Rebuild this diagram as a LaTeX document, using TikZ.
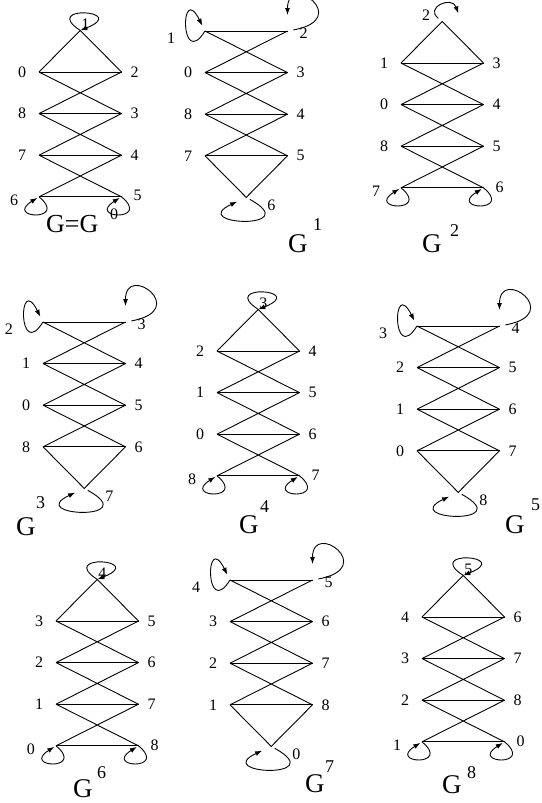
\documentclass[tikz,border=0pt]{standalone}
\usepackage{fontspec}
\setmainfont{Liberation Serif}
\usetikzlibrary{arrows.meta}
\tikzset{
  edge/.style={line width=0.9pt},
  selfloop/.style={line width=0.9pt,-{Latex[length=7pt,width=5pt]}},
  lbl/.style={inner sep=0pt,font=\fontsize{16}{16}\selectfont},
  ttl/.style={inner sep=0pt,anchor=base west,font=\fontsize{27}{27}\selectfont},
  sup/.style={inner sep=0pt,anchor=base west,font=\fontsize{18}{18}\selectfont},
}
\begin{document}
\begin{tikzpicture}[x=1pt,y=-1pt]
\useasboundingbox (0,0) rectangle (541,803);

% G^0, G^2, G^4, G^6, G^8: apex on top
\foreach \n/\px/\py/\A/\La/\Lb/\Lc/\Ld/\Ra/\Rb/\Rc/\Rd in {0/39/72/1/0/8/7/6/2/3/4/5, 2/401/63/2/1/0/8/7/3/4/5/6, 4/217/351/3/2/1/0/8/4/5/6/7, 6/56/621/4/3/2/1/0/5/6/7/8, 8/422/617/5/4/3/2/1/6/7/8/0}{
  \begin{scope}[shift={(\px,\py)}]
    \coordinate (p\n-a) at (41.25,-41.6);
    \foreach \i in {0,...,3}{
      \coordinate (p\n-l\i) at (0,41.6*\i);
      \coordinate (p\n-r\i) at (82.5,41.6*\i);
    }
    \node[lbl] (p\n-tl0) at (-17,0) {\La};
    \node[lbl] (p\n-tl1) at (-17,41.6) {\Lb};
    \node[lbl] (p\n-tl2) at (-17,83.2) {\Lc};
    \node[lbl] (p\n-tl3) at (-25,127.8) {\Ld};
    \node[lbl] (p\n-tr0) at (95.5,0) {\Ra};
    \node[lbl] (p\n-tr1) at (95.5,41.6) {\Rb};
    \node[lbl] (p\n-tr2) at (95.5,83.2) {\Rc};
    \node[lbl] (p\n-tr3) at (98.5,123.8) {\Rd};
    \ifnum\n=2
      \node[lbl] (p\n-ta) at (25,-47.6) {\A};
      \coordinate (p\n-e) at (57.25,-49.6);
    \else
      \node[lbl] (p\n-ta) at (46.25,-47.6) {\A};
    \fi
  \end{scope}
  \draw[edge] (p\n-l0) -- (p\n-a) -- (p\n-r0);
  \foreach \i in {0,...,3} \draw[edge] (p\n-l\i) -- (p\n-r\i);
  \foreach \i/\j in {0/1,1/2,2/3} \draw[edge] (p\n-l\i) -- (p\n-r\j) (p\n-r\i) -- (p\n-l\j);
  \draw[selfloop,shorten >=2pt] (p\n-l3) .. controls +(30,25) and +(-35,22) .. (p\n-l3);
  \draw[selfloop,shorten >=2pt] (p\n-r3) .. controls +(30,25) and +(-35,22) .. (p\n-r3);
  \ifnum\n=2
    \draw[selfloop,shorten <=5pt] (p\n-a) .. controls +(-18,-14) and +(-6,-18) .. (p\n-e);
  \else
    \draw[selfloop] (p\n-a) .. controls +(-40,-26) and +(50,-20) .. (p\n-a);
  \fi
}

% G^1, G^3, G^5, G^7: apex at the bottom
\foreach \n/\px/\py/\La/\Lb/\Lc/\Ld/\Ra/\Rb/\Rc/\Rd/\B in {1/205/31/1/0/8/7/2/3/4/5/6, 3/43/322/2/1/0/8/3/4/5/6/7, 5/417/326/3/2/1/0/4/5/6/7/8, 7/230/580/4/3/2/1/5/6/7/8/0}{
  \begin{scope}[shift={(\px,\py)}]
    \coordinate (p\n-b) at (41.25,166.4);
    \foreach \i in {0,...,3}{
      \coordinate (p\n-l\i) at (0,41.6*\i);
      \coordinate (p\n-r\i) at (82.5,41.6*\i);
    }
    \node[lbl] (p\n-tl0) at (-34,7) {\La};
    \node[lbl] (p\n-tl1) at (-17,41.6) {\Lb};
    \node[lbl] (p\n-tl2) at (-17,83.2) {\Lc};
    \node[lbl] (p\n-tl3) at (-17,124.8) {\Ld};
    \node[lbl] (p\n-tr0) at (98.5,2) {\Ra};
    \node[lbl] (p\n-tr1) at (95.5,41.6) {\Rb};
    \node[lbl] (p\n-tr2) at (95.5,83.2) {\Rc};
    \node[lbl] (p\n-tr3) at (95.5,124.8) {\Rd};
    \node[lbl] (p\n-tb) at (66.25,174.4) {\B};
  \end{scope}
  \foreach \i in {0,...,3} \draw[edge] (p\n-l\i) -- (p\n-r\i);
  \foreach \i/\j in {0/1,1/2,2/3} \draw[edge] (p\n-l\i) -- (p\n-r\j) (p\n-r\i) -- (p\n-l\j);
  \draw[edge] (p\n-l3) -- (p\n-b) -- (p\n-r3);
  \draw[selfloop,shorten >=6pt] (p\n-l0) .. controls +(-25,40) and +(-25,-50) .. (p\n-l0);
  \draw[selfloop,shorten <=6pt,shorten >=16pt] (p\n-r0) .. controls +(66,-12) and +(0,-60) .. (p\n-r0);
  \draw[selfloop,shorten <=4pt,shorten >=10pt] (p\n-b) .. controls +(60,33) and +(-60,28) .. (p\n-b);
}

% titles
\node[ttl,font=\fontsize{26}{26}\selectfont] (t0) at (46,232) {G=G};
\node[sup,font=\fontsize{16}{16}\selectfont] (s0) at (110,219) {0};
\node[ttl] (t1) at (288,252) {G};
\node[sup] (s1) at (313,230) {1};
\node[ttl] (t2) at (422,252) {G};
\node[sup] (s2) at (450,236) {2};
\node[ttl] (t3) at (16,535) {G};
\node[sup] (s3) at (36,508) {3};
\node[ttl] (t4) at (239,533) {G};
\node[sup] (s4) at (260,512) {4};
\node[ttl] (t5) at (505,533) {G};
\node[sup] (s5) at (531,510) {5};
\node[ttl] (t6) at (73,797) {G};
\node[sup] (s6) at (97,778) {6};
\node[ttl] (t7) at (305,792) {G};
\node[sup] (s7) at (325,772) {7};
\node[ttl] (t8) at (442,793) {G};
\node[sup] (s8) at (467,778) {8};
\end{tikzpicture}
\end{document}
